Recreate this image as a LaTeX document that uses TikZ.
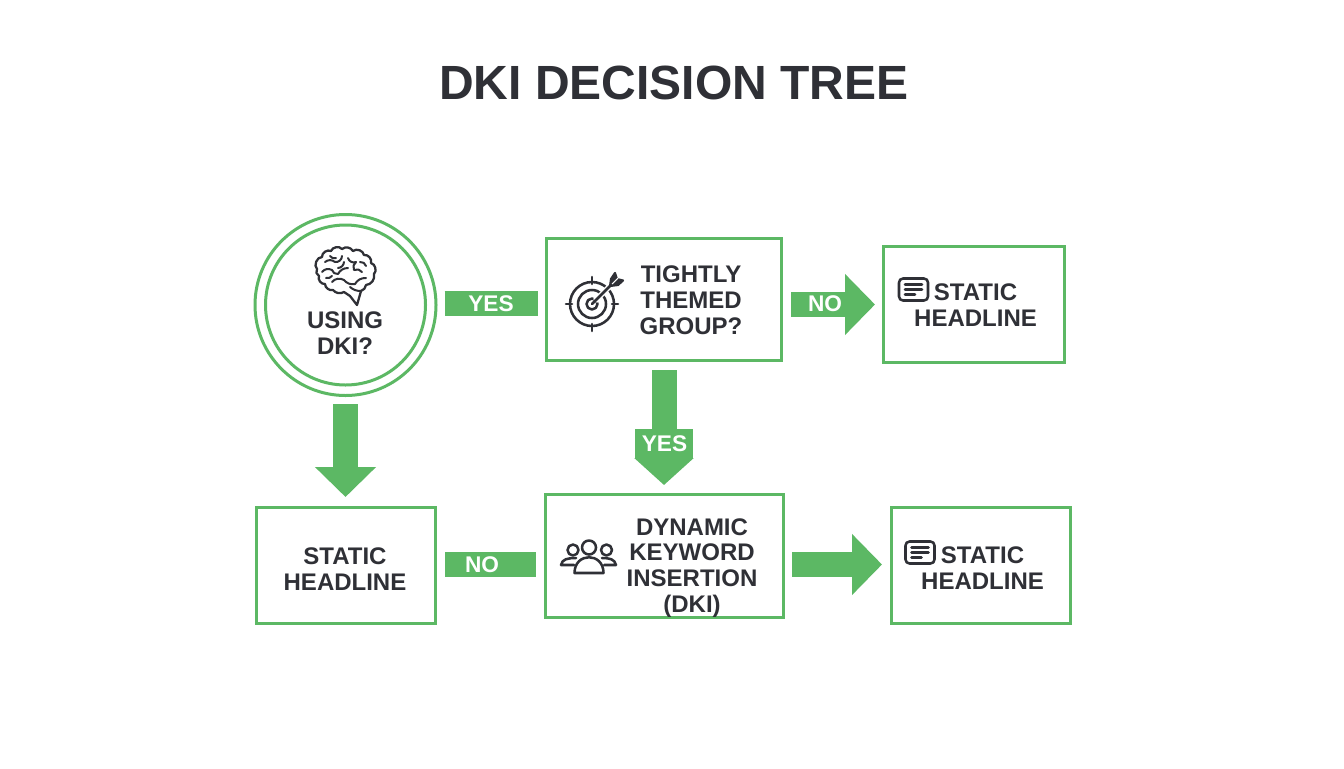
\documentclass[tikz,border=0pt]{standalone}
\usepackage{fontspec}
\setmainfont{Liberation Sans}
\usetikzlibrary{arrows.meta,calc}
\definecolor{grn}{RGB}{92,184,100}
\definecolor{ink}{RGB}{47,48,54}
\tikzset{
  box/.style={draw=grn,line width=2.25pt,fill=white,anchor=north west,inner sep=0pt},
  lbl/.style={text=ink,font=\fontsize{18}{19.4}\selectfont\bfseries,align=center,inner sep=0pt},
  wlbl/.style={text=white,font=\fontsize{17}{19}\selectfont\bfseries,inner sep=0pt},
  ttl/.style={text=ink,font=\fontsize{36}{40}\selectfont\bfseries,inner sep=0pt},
  bar/.style={draw=grn,line width=18.75pt},
  blk/.style={draw=grn,line width=18.75pt,-{Triangle[length=22.5pt,width=44.5pt]}},
  pent/.style={draw=grn,line width=18.75pt,-{Rectangle[length=21.75pt,width=43.5pt,sep=0pt] Triangle[length=20.25pt,width=43.5pt]}},
  ic/.style={draw=ink,line width=1.9pt,line cap=round,line join=round},
}
\begin{document}
\begin{tikzpicture}[x=0.75pt,y=-0.75pt]
\useasboundingbox[fill=white] (0,0) rectangle (1344,768);
\node[ttl] (title) at (674,83) {DKI DECISION TREE};
% circle
\node[circle,draw=grn,line width=2.25pt,minimum size=181*0.75pt,inner sep=0pt] (using) at (345.5,305) {};
\node[circle,draw=grn,line width=2.25pt,minimum size=160*0.75pt,inner sep=0pt] (usingin) at (345.5,305) {};
% boxes
\node[box,minimum width=235*0.75pt,minimum height=122*0.75pt] (tight) at (545,237) {};
\node[box,minimum width=181*0.75pt,minimum height=116*0.75pt] (st1) at (882,245) {};
\node[box,minimum width=179*0.75pt,minimum height=116*0.75pt] (st2) at (255,506) {};
\node[box,minimum width=238*0.75pt,minimum height=123*0.75pt] (dki) at (544,493) {};
\node[box,minimum width=179*0.75pt,minimum height=116*0.75pt] (st3) at (890,506) {};
% connectors
\coordinate (ya) at (0,303.5);
\coordinate (yb) at (0,304.5);
\coordinate (yc) at (0,564.5);
\draw[bar,shorten <=5.25pt,shorten >=5.25pt] (using.east |- ya) -- (tight.west |- ya);
\node[wlbl] (yes1) at (491,303.5) {YES};
\draw[blk,shorten <=6pt,shorten >=5.25pt] (tight.east |- yb) -- (st1.west |- yb);
\node[wlbl] (no1) at (825,304) {NO};
\draw[blk,shorten <=5.25pt,shorten >=6.75pt] (using.south) -- (using.south |- st2.north);
\draw[pent,shorten <=6pt,shorten >=6pt] (tight.south) -- (tight.south |- dki.north);
\node[wlbl] (yes2) at (664.5,444) {YES};
\draw[bar,shorten <=6pt,shorten >=6pt] (st2.east |- yc) -- (dki.west |- yc);
\node[wlbl] (no2) at (482,564.5) {NO};
\draw[blk,shorten <=5.25pt,shorten >=6pt] (dki.east |- yc) -- (st3.west |- yc);
% texts
\node[lbl] (t1) at (345,333) {USING\\DKI?};
\node[lbl] (t2) at (691,300) {TIGHTLY\\THEMED\\GROUP?};
\node[lbl] (t3) at (975.5,305) {STATIC\\HEADLINE};
\node[lbl] (t4) at (345,569) {STATIC\\HEADLINE};
\node[lbl] (t5) at (692,568) {DYNAMIC\\KEYWORD\\INSERTION\\(DKI)};
\node[lbl] (t6) at (982.5,568) {STATIC\\HEADLINE};
% brain icon
\draw[ic,line width=1.7pt] (317,269) to[bend left=70] (322,257) to[bend left=60] (331,251) to[bend left=60] (342,249)
  to[bend left=50] (353,251) to[bend left=60] (364,255) to[bend left=60] (371,263) to[bend left=60] (374,274)
  to[bend left=50] (366,285) to[bend left=30] (361,291) to (357,305) to (350,296) to[bend right=10] (344,292)
  to[bend left=40] (333,290) to[bend left=50] (325,284) to[bend left=60] (319,276) to[bend left=50] cycle;
\draw[ic,line width=1.5pt] (325,262) to[bend left=40] (335,262) to[bend right=50] (342,256);
\draw[ic,line width=1.5pt] (322,272) to[bend left=40] (332,270) to[bend right=40] (338,274) to[bend left=30] (348,268);
\draw[ic,line width=1.5pt] (348,258) to[bend right=50] (356,262) to[bend right=40] (354,270) to[bend left=40] (362,272);
\draw[ic,line width=1.5pt] (332,282) to[bend left=40] (344,280) to[bend right=30] (355,284) to[bend left=30] (366,278);
\draw[ic,line width=1.5pt] (361,291) to[bend left=20] (350,287);
\draw[ic,line width=1.5pt] (330,256) to[bend right=40] (336,258) (344,262) to[bend left=40] (338,268) (360,262) to[bend left=40] (366,266) (326,278) to[bend right=30] (332,276);
% target icon
\draw[ic] (592,304) circle (22);
\draw[ic] (592,304) circle (14);
\draw[ic] (592,304) circle (5.5);
\draw[ic] (592,277) -- (592,284) (592,324) -- (592,331) (566,304) -- (572,304) (612,304) -- (618,304);
\draw[white,line width=4pt] (595,301) -- (612,284);
\draw[ic] (592,304) -- (612,284);
\draw[ic,line width=1.6pt,fill=ink] (610,286) -- (611,279) -- (615,273) -- (617,279) -- (623,280.5) -- (618,285) -- cycle;
\draw[white,line width=0.8pt] (612,284) -- (618,278);
% document icons
\foreach \x/\y in {899/278.5,905.5/541.5}{
  \draw[ic,rounded corners=3pt] (\x,\y) rectangle ++(29,22);
  \draw[ic] (\x+6,\y+6) -- ++(17,0) (\x+6,\y+11) -- ++(17,0) (\x+6,\y+16) -- ++(10,0);
}
% people icon
\draw[ic] (589,547.5) circle (7);
\draw[ic] (573,550) circle (5.5);
\draw[ic] (606.5,550) circle (5.5);
\draw[ic] (574.5,573) .. controls (574.5,552) and (603.5,552) .. (603.5,573) -- cycle;
\draw[ic] (561,565) .. controls (562,559) and (568,558) .. (576,558) (561,565) -- (574,565);
\draw[ic] (616,565) .. controls (615,559) and (609,558) .. (602,558) (616,565) -- (604,565);
\end{tikzpicture}
\end{document}
